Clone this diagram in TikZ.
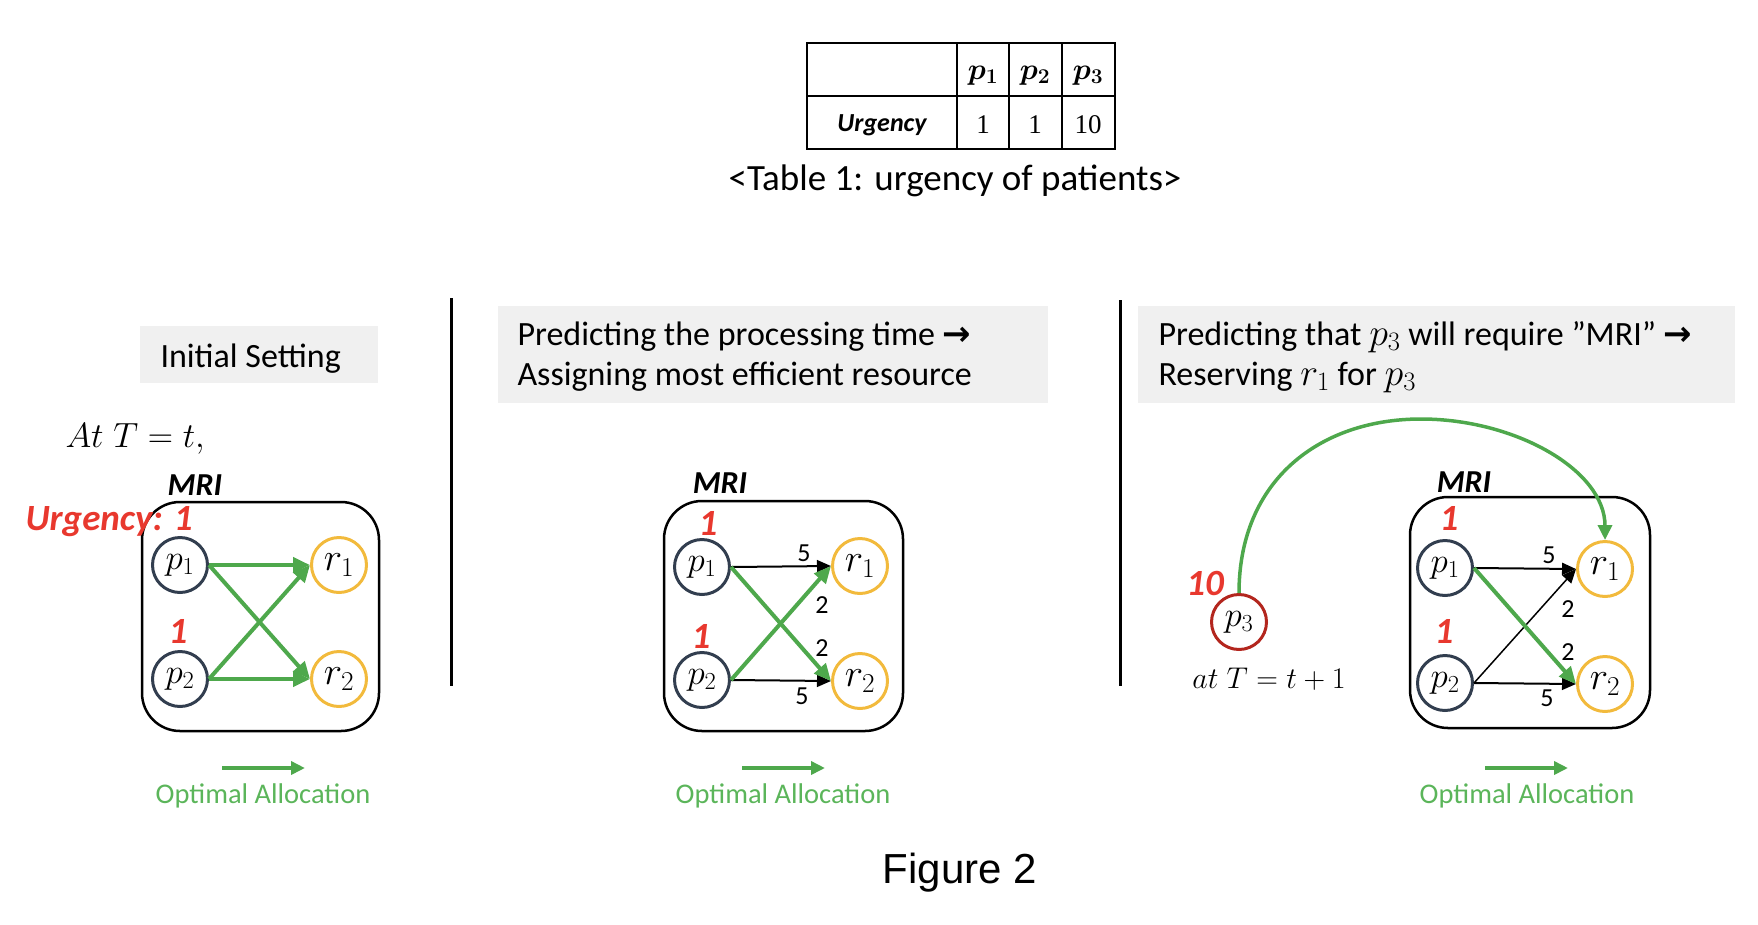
\RequirePackage{fix-cm}
\documentclass[tikz,border=0pt]{standalone}
\usepackage{amsmath}
\usepackage{bm}
\usepackage{fontspec}
\setmainfont{Carlito}
\newfontfamily\arialfont{Liberation Sans}
\newfontfamily\serffont{Liberation Serif}
\newfontfamily\symfont{DejaVu Sans}
\usetikzlibrary{arrows.meta}
\definecolor{pcol}{HTML}{323E4F}
\definecolor{rcol}{HTML}{F2BA3C}
\definecolor{pthree}{HTML}{B3261E}
\definecolor{redtxt}{HTML}{E8382E}
\definecolor{gcol}{HTML}{4EA84C}
\definecolor{gtxt}{HTML}{5BB55A}
\definecolor{boxgray}{HTML}{F0F0F0}
\newcommand\setfs[2]{\fontsize{#1}{#2}\selectfont}
\newcommand\bigmath[1]{{\setfs{38}{40}$#1$}}
\begin{document}
\begin{tikzpicture}[x=1pt,y=-1pt,
  pnode/.style={circle,draw=pcol,line width=3pt,minimum size=55pt,inner sep=0pt,font=\setfs{35}{36}},
  rnode/.style={circle,draw=rcol,line width=3pt,minimum size=55pt,inner sep=0pt,font=\setfs{39}{40}},
  p3node/.style={circle,draw=pthree,line width=3pt,minimum size=55pt,inner sep=0pt,font=\setfs{35}{36}},
  mribox/.style={draw=black,line width=2.5pt,rounded corners=38pt},
  garrow/.style={draw=gcol,line width=4pt,-{Triangle[length=17pt,width=15pt]}},
  barrow/.style={draw=black,line width=2pt,-{Triangle[length=14pt,width=12pt]}},
  thinarrow/.style={draw=black,line width=1.5pt,-{Triangle[length=14pt,width=12pt]}},
  curvearrow/.style={draw=gcol,line width=3.5pt,-{Triangle[length=15pt,width=14pt]}},
  legarrow/.style={draw=gcol,line width=4pt,-{Triangle[length=14pt,width=13pt]}},
  grbox/.style={fill=boxgray},
  headtxt/.style={anchor=base west,font=\setfs{34}{40}},
  mritxt/.style={anchor=base,font=\setfs{32}{36}\bfseries\itshape},
  redlbl/.style={anchor=base,text=redtxt,font=\setfs{37}{40}\bfseries\itshape},
  elbl/.style={anchor=base,font=\setfs{26}{28}},
  legtxt/.style={anchor=base,text=gtxt,font=\setfs{28.5}{32}},
  sep/.style={draw=black,line width=3pt},
  tbl/.style={draw=black,line width=2.5pt}
]
\useasboundingbox (0,0) rectangle (1758,924);

% ---------- table ----------
\draw[tbl] (807,43) rectangle (1115,149);
\draw[tbl] (807,96) -- (1115,96);
\draw[tbl] (957,43) -- (957,149);
\draw[tbl] (1009,43) -- (1009,149);
\draw[tbl] (1062,43) -- (1062,149);
\node[anchor=base,font=\setfs{30}{32}] (th1) at (983,79) {$\bm{p}_{\bm{1}}$};
\node[anchor=base,font=\setfs{30}{32}] (th2) at (1035,79) {$\bm{p}_{\bm{2}}$};
\node[anchor=base,font=\setfs{30}{32}] (th3) at (1088,79) {$\bm{p}_{\bm{3}}$};
\node[anchor=base,font=\setfs{26}{28}\bfseries\itshape] (turg) at (882,131) {Urgency};
\node[anchor=base,font=\serffont\setfs{27}{28}] (tu1) at (983,133) {1};
\node[anchor=base,font=\serffont\setfs{27}{28}] (tu2) at (1035,133) {1};
\node[anchor=base,font=\serffont\setfs{27}{28}] (tu3) at (1088,133) {10};
\node[anchor=base,font=\setfs{37}{40}] (tcap) at (955,190) {<Table 1: urgency of patients>};

% ---------- separators ----------
\draw[sep] (451,298) -- (451,686);
\draw[sep] (1120,300) -- (1120,686);

% ---------- left panel ----------
\fill[grbox] (140,326) rectangle (378,383);
\node[headtxt] (lhead) at (157,367) {Initial Setting};
\node[anchor=base west,font=\setfs{35}{38}] (lat) at (62,447) {$At\;T=t,$};
\node[mritxt] (lmri) at (195,495) {MRI};
\draw[mribox] (142,502) rectangle (379,731);
\node[pnode] (lp1) at (180,565) {$p_1$};
\node[pnode] (lp2) at (180,679) {$p_2$};
\node[rnode] (lr1) at (339,565) {$r_1$};
\node[rnode] (lr2) at (339,679) {$r_2$};
\node[redlbl,anchor=base west] (lurg) at (22,530) {Urgency: 1};
\node[redlbl] (lu2) at (178,643) {1};
\draw[garrow] (lp1.east) -- (lr1.west);
\draw[garrow] (lp1.east) -- (lr2.west);
\draw[garrow] (lp2.east) -- (lr1.west);
\draw[garrow] (lp2.east) -- (lr2.west);
\coordinate (lla) at (222,768);
\coordinate (llb) at (305,768);
\draw[legarrow] (lla) -- (llb);
\node[legtxt] (lleg) at (263,803) {Optimal Allocation};

% ---------- middle panel ----------
\fill[grbox] (498,306) rectangle (1048,403);
\node[headtxt] (mhead1) at (514,345) {Predicting the processing time {\symfont\bfseries →}};
\node[headtxt] (mhead2) at (514,385) {Assigning most efficient resource};
\node[mritxt] (mmri) at (720,493) {MRI};
\draw[mribox] (664,501) rectangle (903,731);
\node[pnode] (mp1) at (702,567) {$p_1$};
\node[pnode] (mp2) at (702,680) {$p_2$};
\node[rnode] (mr1) at (860,566) {$r_1$};
\node[rnode] (mr2) at (860,681) {$r_2$};
\node[redlbl] (mu1) at (708,535) {1};
\node[redlbl] (mu2) at (701,648) {1};
\draw[barrow] (mp1.east) -- (mr1.west);
\draw[barrow] (mp2.east) -- (mr2.west);
\draw[garrow] (mp1.east) -- (mr2.west);
\draw[garrow] (mp2.east) -- (mr1.west);
\node[elbl] (me1) at (804,561) {5};
\node[elbl] (me2) at (822,613) {2};
\node[elbl] (me3) at (822,656) {2};
\node[elbl] (me4) at (802,704) {5};
\coordinate (mla) at (742,768);
\coordinate (mlb) at (825,768);
\draw[legarrow] (mla) -- (mlb);
\node[legtxt] (mleg) at (783,803) {Optimal Allocation};

% ---------- right panel ----------
\fill[grbox] (1138,306) rectangle (1735,403);
\node[headtxt] (rhead1) at (1155,345) {Predicting that \bigmath{p_3} will require ”MRI” {\symfont\bfseries →}};
\node[headtxt] (rhead2) at (1155,385) {Reserving \bigmath{r_1} for \bigmath{p_3}};
\node[mritxt] (rmri) at (1464,492) {MRI};
\draw[mribox] (1410,497) rectangle (1650,728);
\node[pnode] (rp1) at (1445,568) {$p_1$};
\node[pnode] (rp2) at (1445,683) {$p_2$};
\node[rnode] (rr1) at (1605,569) {$r_1$};
\node[rnode] (rr2) at (1605,684) {$r_2$};
\node[redlbl] (ru1) at (1449,530) {1};
\node[redlbl] (ru2) at (1444,643) {1};
\node[p3node] (rp3) at (1239,622) {$p_3$};
\node[redlbl] (ru3) at (1205,595) {10};
\node[anchor=base,font=\setfs{30}{32}] (rat) at (1269,688) {$at\;T=t+1$};
\draw[barrow] (rp1.east) -- (rr1.west);
\draw[barrow] (rp2.east) -- (rr2.west);
\draw[thinarrow] (rp2.east) -- (rr1.west);
\draw[garrow] (rp1.east) -- (rr2.west);
\node[elbl] (re1) at (1549,563) {5};
\node[elbl] (re2) at (1568,617) {2};
\node[elbl] (re3) at (1568,660) {2};
\node[elbl] (re4) at (1547,706) {5};
\coordinate (peak) at (1421,419);
\draw[curvearrow] (rp3.north) .. controls (1239,480) and (1320,419) .. (peak) .. controls (1515,419) and (1605,470) .. (rr1.north);
\coordinate (rla) at (1485,768);
\coordinate (rlb) at (1568,768);
\draw[legarrow] (rla) -- (rlb);
\node[legtxt] (rleg) at (1527,803) {Optimal Allocation};

% ---------- title ----------
\node[anchor=base,font=\arialfont\setfs{42}{48}] (fig) at (960,883) {Figure 2};
\end{tikzpicture}
\end{document}
